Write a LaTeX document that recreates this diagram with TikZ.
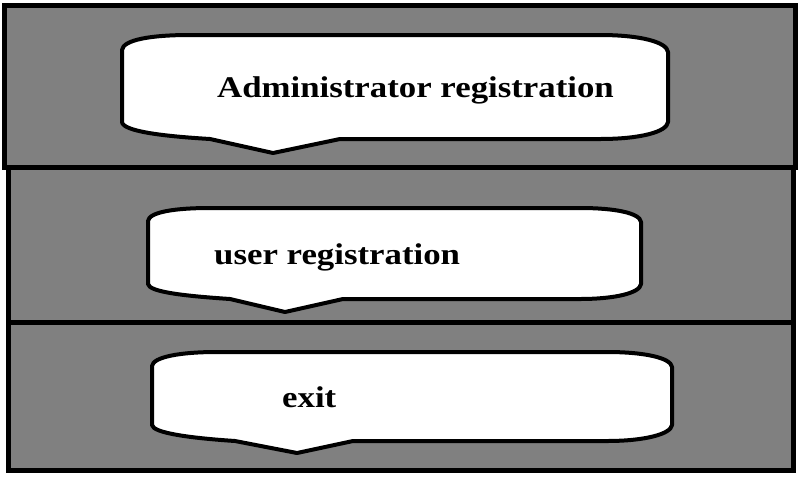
\documentclass[tikz,border=0pt]{standalone}
\usepackage{fontspec}
\usepackage{tikz}
\newfontfamily\menufont{Liberation Serif}[FakeStretch=1.16]
\definecolor{bandgray}{RGB}{128,128,128}

\tikzset{
  band/.style={draw, line width=5pt, fill=bandgray},
  bubble/.style={draw, line width=4pt, fill=white, line join=round},
  item/.style={font=\menufont\bfseries\fontsize{30}{36}\selectfont, anchor=base west, inner sep=0pt}
}

\begin{document}
\begin{tikzpicture}[x=1pt, y=-1pt]
    \useasboundingbox (0,0) rectangle (800,480);
    % bands
    \draw[band] (8,322) rectangle (793,470);
    \draw[band] (8,167) rectangle (793,322);
    \draw[band] (4,5) rectangle (795,167);
    % menu entries
    \draw[bubble] (122,50) .. controls (123,40) and (150,35) .. (190,35) -- (600,35)
        .. controls (640,35) and (667,42) .. (668,52) -- (668,122)
        .. controls (667,132) and (640,139) .. (600,139) -- (340,139) -- (273,153) -- (210,139)
        .. controls (160,136) and (123,131) .. (122,122) -- cycle;
    \draw[bubble] (148,221) .. controls (149,212) and (175,208) .. (210,208) -- (580,208)
        .. controls (615,208) and (640,213) .. (641,222) -- (641,284)
        .. controls (640,293) and (615,299) .. (580,299) -- (343,299) -- (285,312) -- (230,299)
        .. controls (185,296) and (149,292) .. (148,284) -- cycle;
    \draw[bubble] (152,366) .. controls (153,357) and (180,352) .. (217,352) -- (607,352)
        .. controls (645,352) and (671,358) .. (672,367) -- (672,425)
        .. controls (671,434) and (645,441) .. (607,441) -- (353,441) -- (297,453) -- (235,441)
        .. controls (190,438) and (153,433) .. (152,425) -- cycle;
    \node[item] (admin) at (217,97) {Administrator registration};
    \node[item] (user) at (214,264) {user registration};
    \node[item] (exit) at (282,407) {exit};
\end{tikzpicture}
\end{document}
